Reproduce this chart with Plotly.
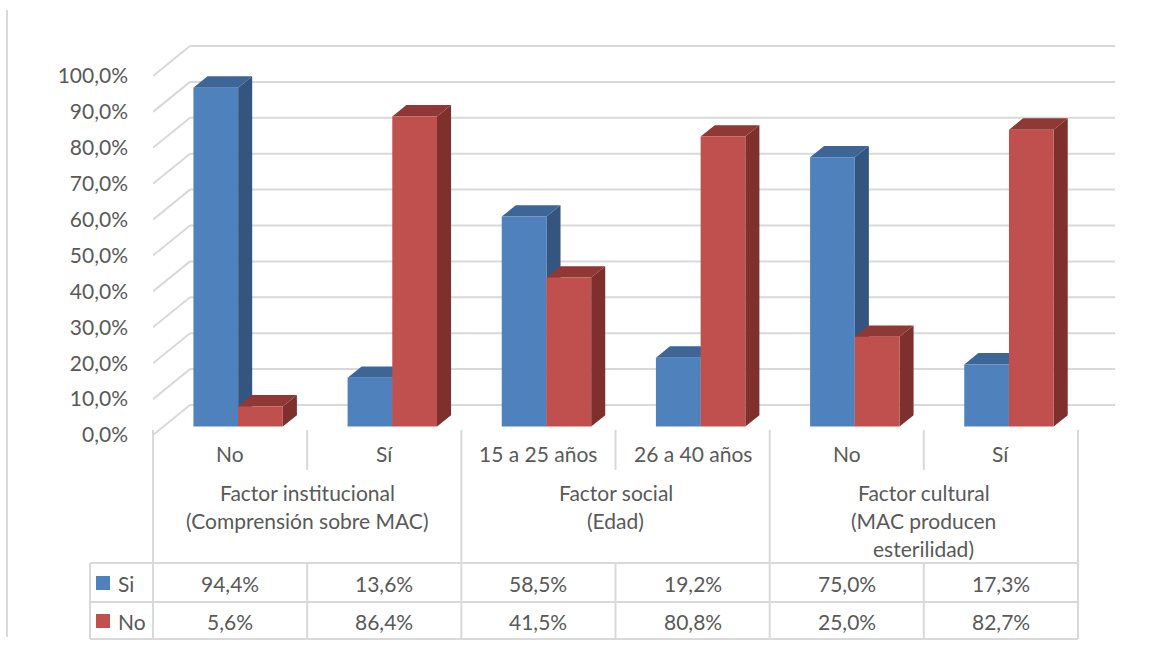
import plotly.graph_objects as go

# ---- data ----
categories = ["No", "Sí", "15 a 25 años", "26 a 40 años", "No", "Sí"]
group_labels = [
    ["Factor institucional", "(Comprensión sobre MAC)"],
    ["Factor social", "(Edad)"],
    ["Factor cultural", "(MAC producen", "esterilidad)"],
]
group_sizes = [2, 2, 2]
series_names = ["Si", "No"]
si_values = [94.4, 13.6, 58.5, 19.2, 75.0, 17.3]
no_values = [5.6, 86.4, 41.5, 80.8, 25.0, 82.7]
y_ticks = [0, 10, 20, 30, 40, 50, 60, 70, 80, 90, 100]

# ---- styling ----
FONT = "Lato"
FSIZE = 21
TXT = "#595959"
GRID = "#D9D9D9"
face_colors = [
    {"front": "#4F81BD", "side": "#34557F", "top": "#3D6596"},
    {"front": "#C0504D", "side": "#7E302D", "top": "#903835"},
]

W, H = 1168, 650
L, R = 153, 1115          # plot area, pixels
T, B = 40, 435
PX_X = (1078 - 153) / 6   # pixels per category
PX_Y = 3.59               # pixels per percent

# oblique depth vector for the 3D look (data units, full wall depth)
DX = 37 / PX_X
DY = 30 / PX_Y
D_FRONT = 0.28            # bar front face depth fraction
D_BAR = 0.38              # bar thickness as depth fraction
BAR_W = 0.29


def fmt(v):
    return f"{v:.1f}".replace(".", ",") + "%"


def px(p):
    return (p - L) / (R - L)


def py(p):
    return (B - p) / (B - T)


fig = go.Figure()

# ---- bars as oblique prisms ----
series = [si_values, no_values]
base = D_FRONT * DY
shift = D_FRONT * DX - 0.015
ddx, ddy = D_BAR * DX, D_BAR * DY
for s, vals in enumerate(series):
    fronts = {"x": [], "y": []}
    sides = {"x": [], "y": []}
    tops = {"x": [], "y": []}
    for i, v in enumerate(vals):
        xl = i + shift + (s - 1) * BAR_W
        xr = xl + BAR_W
        yt = base + v
        fronts["x"] += [xl, xr, xr, xl, xl, None]
        fronts["y"] += [base, base, yt, yt, base, None]
        sides["x"] += [xr, xr + ddx, xr + ddx, xr, xr, None]
        sides["y"] += [base, base + ddy, yt + ddy, yt, base, None]
        tops["x"] += [xl, xr, xr + ddx, xl + ddx, xl, None]
        tops["y"] += [yt, yt, yt + ddy, yt + ddy, yt, None]
    for key, pts in (("side", sides), ("top", tops), ("front", fronts)):
        fig.add_trace(go.Scatter(
            x=pts["x"], y=pts["y"], mode="lines", fill="toself",
            fillcolor=face_colors[s][key], line=dict(width=0),
            name=series_names[s], showlegend=False, hoverinfo="skip",
        ))

# ---- walls: back gridlines and side-wall diagonals ----
x_front_left = -0.5
x_back_left = x_front_left + DX
x_back_right = (R - L) / PX_X - 0.5
for v in y_ticks:
    fig.add_shape(type="line", xref="x", yref="y", layer="below",
                  x0=x_front_left, y0=v, x1=x_back_left, y1=v + DY,
                  line=dict(color=GRID, width=2))
    fig.add_shape(type="line", xref="x", yref="y", layer="below",
                  x0=x_back_left, y0=v + DY, x1=x_back_right, y1=v + DY,
                  line=dict(color=GRID, width=2))

# ---- category labels and data table ----
col_edges = [L + k * PX_X for k in range(len(categories) + 1)]
line_style = dict(color=GRID, width=2)


def hline(x0, x1, y):
    fig.add_shape(type="line", xref="paper", yref="paper",
                  x0=px(x0), x1=px(x1), y0=py(y), y1=py(y), line=line_style)


def vline(x, y0, y1):
    fig.add_shape(type="line", xref="paper", yref="paper",
                  x0=px(x), x1=px(x), y0=py(y0), y1=py(y1), line=line_style)


def label(text, x, y, xanchor="center"):
    fig.add_annotation(text=text, xref="paper", yref="paper", x=px(x), y=py(y),
                       xanchor=xanchor, yanchor="middle", showarrow=False,
                       font=dict(family=FONT, size=FSIZE, color=TXT))


TOP_LBL, ROW1, ROW2, ROW3 = 430, 563, 602, 639
TBL_LEFT = 90

# outer verticals of the table / label block
vline(col_edges[0], TOP_LBL, ROW3)
vline(col_edges[-1], TOP_LBL, ROW3)
# dividers
k = 0
for g, size in enumerate(group_sizes):
    for j in range(size):
        idx = k + j
        if 0 < idx:
            if j == 0:
                vline(col_edges[idx], TOP_LBL, ROW3)
            else:
                vline(col_edges[idx], TOP_LBL, 470)
                vline(col_edges[idx], ROW1, ROW3)
    k += size
vline(TBL_LEFT, ROW1, ROW3)
for y in (ROW1, ROW2, ROW3):
    hline(TBL_LEFT, col_edges[-1], y)

# sub-category labels
for i, c in enumerate(categories):
    label(c, (col_edges[i] + col_edges[i + 1]) / 2, 453)

# group labels
k = 0
for g, size in enumerate(group_sizes):
    cx = (col_edges[k] + col_edges[k + size]) / 2
    for n, line_txt in enumerate(group_labels[g]):
        label(line_txt, cx, 493 + n * 27.5)
    k += size

# table rows: legend key, series name, values
for r, (vals, name) in enumerate(zip(series, series_names)):
    yc = (583, 621)[r]
    fig.add_shape(type="rect", xref="paper", yref="paper",
                  x0=px(96), x1=px(110), y0=py(yc - 7), y1=py(yc + 7),
                  fillcolor=face_colors[r]["front"], line=dict(width=0))
    label(name, 116, yc, xanchor="left")
    for i, v in enumerate(vals):
        label(fmt(v), (col_edges[i] + col_edges[i + 1]) / 2, yc)

# chart frame (left edge)
vline(7, 10, 637)

fig.update_layout(
    width=W, height=H, autosize=False,
    margin=dict(l=L, r=W - R, t=T, b=H - B),
    paper_bgcolor="white", plot_bgcolor="white",
    showlegend=False,
    xaxis=dict(range=[-0.5, x_back_right], visible=False, fixedrange=True),
    yaxis=dict(range=[0, (B - T) / PX_Y], tickvals=y_ticks,
               ticktext=[fmt(v) for v in y_ticks], showgrid=False,
               zeroline=False, showline=False, ticks="",
               ticklabelstandoff=24,
               tickfont=dict(family=FONT, size=FSIZE, color=TXT),
               fixedrange=True),
)

fig.write_html("out.html")
